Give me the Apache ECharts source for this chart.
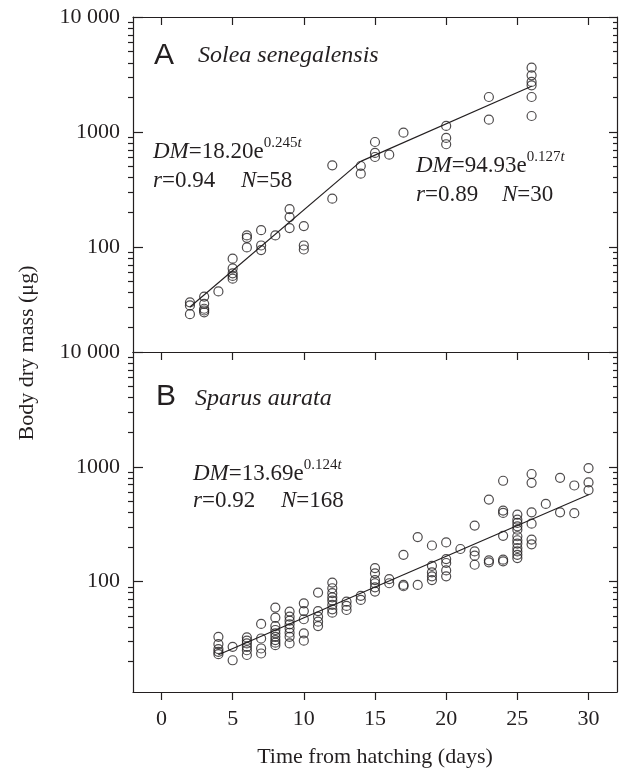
<!DOCTYPE html>
<html><head><meta charset="utf-8">
<script src="https://cdn.jsdelivr.net/npm/echarts@6/dist/echarts.min.js"></script>
<style>html,body{margin:0;padding:0;background:#fff}#c{width:623px;height:769px}</style>
</head><body><div id="c"></div>
<script>
// ---------- data ----------
const xTicks = [0, 5, 10, 15, 20, 25, 30];
const xTickLabels = ['0', '5', '10', '15', '20', '25', '30'];
const yMajor = [100, 1000, 10000];
const yMajorLabels = ['100', '1000', '10 000'];
const yMinor = [20, 30, 40, 50, 60, 70, 80, 90, 200, 300, 400, 500, 600, 700, 800, 900, 2000, 3000, 4000, 5000, 6000, 7000, 8000, 9000];

// A  Solea senegalensis
const soleaT = [2,2,2, 3,3,3,3,3, 4, 5,5,5,5,5, 6,6,6, 7,7,7, 8, 9,9,9, 10,10,10, 12,12, 14,14, 15,15,15, 16, 17, 20,20,20, 23,23, 26,26,26,26,26,26];
const soleaDM = [33,31,26, 37,32,29,28,27, 41, 79,65,59,56,53, 126,120,99, 140,103,94, 126, 213,182,146, 152,103,95, 513,263, 506,434, 818,657,606, 635, 987, 1128,887,782, 2014,1280, 3624,3110,2722,2547,2014,1377];
const soleaFit1T = [2, 14];
const soleaFit1DM = [30, 555];
const soleaFit2T = [14, 26];
const soleaFit2DM = [555, 2500];

// B  Sparus aurata
const sparusT = [
  4,4,4,4,4, 5,5, 6,6,6,6,6,6, 7,7,7,7, 8,8,8,8,8,8,8,8,8, 9,9,9,9,9,9,9,9,
  10,10,10,10,10, 11,11,11,11,11, 12,12,12,12,12,12,12,12, 13,13,13, 14,14,
  15,15,15,15,15,15, 16,16, 17,17,17, 18,18, 19,19,19,19,19, 20,20,20,20,20, 21,
  22,22,22,22, 23,23,23, 24,24,24,24,24,24, 25,25,25,25,25,25,25,25,25,25,25,25,
  26,26,26,26,26,26, 27, 28,28, 29,29, 30,30,30];
const sparusDM = [
  33,28.5,25.8,24.4,23.3, 27,20.6, 32.6,30.5,28.9,27,25.2,22.9, 42.7,31.9,26.1,23.6,
  59.3,48.4,40.9,37.8,35.3,33,30.9,29.3,27.9, 54.7,49.4,45.6,42.4,39.1,35.8,33,28.9,
  64.6,55.3,46.9,35.3,30.5, 80.2,55.3,49.4,44.7,40.9, 98,87.4,79.1,72.9,68.2,62.5,57.3,53.5,
  66.8,61.3,56.5, 75,69.1, 131,118,103,96.6,89.1,81.8, 105,96.6, 171,93.5,91, 244,93.5,
  206,137,120,111,103, 219,157,145,125,111, 192, 307,183,168,140, 518,153,147,
  755,415,396,250,155,150, 383,346,324,303,283,248,229,214,196,183,171,160,
  865,724,401,319,232,211, 474, 801,401, 687,394, 975,730,626];
const sparusFitT = [4, 30];
const sparusFitDM = [23, 570];

// ---------- style ----------
const INK = '#231f20';
const SERIF = '"Liberation Serif", "Times New Roman", serif';
const SANS = '"Liberation Sans", Arial, sans-serif';
const yMinA = 12.2, yMinB = 10.9, yMax = 10000;
const xMin = -2, xMax = 32;
const L = Math.log10;

const grids = [
  { left: 133, top: 17, width: 484, height: 335 },
  { left: 133, top: 352, width: 484, height: 340 }
];

const lineStyle = { color: INK, width: 1.2 };
const pair = (ts, vs) => ts.map((t, i) => [t, vs[i]]);

const xAxes = [], yAxes = [];
[0, 1].forEach(g => {
  const isB = g === 1;
  xAxes.push({
    type: 'value', gridIndex: g, position: 'bottom', min: xMin, max: xMax,
    splitLine: { show: false },
    axisLine: { show: true, onZero: false, lineStyle },
    axisTick: { show: isB, inside: false, length: 8, lineStyle, customValues: xTicks },
    axisLabel: {
      show: isB, customValues: xTicks, margin: 16,
      formatter: v => xTickLabels[xTicks.indexOf(v)] ?? '',
      fontFamily: SERIF, fontSize: 22, color: INK
    },
    name: isB ? 'Time from hatching (days)' : '',
    nameLocation: 'middle', nameGap: 54,
    nameTextStyle: { fontFamily: SERIF, fontSize: 22, color: INK }
  });
  xAxes.push({
    type: 'value', gridIndex: g, position: 'top', min: xMin, max: xMax,
    splitLine: { show: false },
    axisLine: { show: true, onZero: false, lineStyle },
    axisTick: { show: true, inside: true, length: 8, lineStyle, customValues: xTicks },
    axisLabel: { show: false }
  });
  const yMin = isB ? yMinB : yMinA;
  yAxes.push({
    type: 'log', logBase: 10, gridIndex: g, position: 'left', min: yMin, max: yMax,
    splitLine: { show: false }, minorSplitLine: { show: false },
    axisLine: { show: true, onZero: false, lineStyle },
    axisTick: { show: false }, axisLabel: { show: false }
  });
  const tickAxis = (pos, vals, inside, len, labels, line) => ({
    type: 'value', gridIndex: g, position: pos, min: L(yMin), max: L(yMax),
    splitLine: { show: false },
    axisLine: { show: !!line, onZero: false, lineStyle },
    axisTick: { show: true, inside, length: len, lineStyle, customValues: vals.map(L) },
    axisLabel: labels ? {
      show: true, customValues: yMajor.map(L), margin: 13,
      formatter: v => yMajorLabels[Math.round(v) - 2] ?? '',
      fontFamily: SERIF, fontSize: 22, color: INK
    } : { show: false }
  });
  yAxes.push(tickAxis('left', yMajor, true, 10, true, false));
  yAxes.push(tickAxis('left', yMinor, false, 5, false, false));
  yAxes.push(tickAxis('right', yMajor, true, 8, false, true));
  yAxes.push(tickAxis('right', yMinor, true, 4, false, false));
});

const scatter = (xi, yi, data) => ({
  type: 'scatter', xAxisIndex: xi, yAxisIndex: yi, data,
  symbol: 'circle', symbolSize: 9,
  itemStyle: { color: 'rgba(0,0,0,0)', borderColor: INK, borderWidth: 1.2 },
  silent: true, z: 3
});
const fit = (xi, yi, data) => ({
  type: 'line', xAxisIndex: xi, yAxisIndex: yi, data,
  showSymbol: false, symbol: 'none', lineStyle, silent: true, z: 2
});

// ---------- text layout helper ----------
const mctx = document.createElement('canvas').getContext('2d');
function textRun(segs, x0, baseline, size) {
  const out = [];
  let x = x0;
  segs.forEach(s => {
    const fs = s.sup ? Math.round(size * 0.66) : size;
    const fam = s.sans ? SANS : SERIF;
    const font = (s.it ? 'italic ' : '') + fs + 'px ' + fam;
    mctx.font = font;
    const w = mctx.measureText(s.t).width;
    const base = baseline - (s.sup ? 11.5 : 0);
    const xx = s.at != null ? x0 + s.at : x;
    out.push({
      type: 'text', x: xx, y: base - 0.305 * fs,
      style: { text: s.t, font, fill: INK, textAlign: 'left', textVerticalAlign: 'middle' },
      silent: true
    });
    x = xx + w;
  });
  return out;
}
const eq = (dm, k, r, n, x0, b1, b2, nOff) => [
  ...textRun([{ t: 'DM', it: true }, { t: '=' + dm + 'e' }, { t: k, sup: true }, { t: 't', it: true, sup: true }], x0, b1, 23),
  ...textRun([{ t: 'r', it: true }, { t: '=' + r }, { t: 'N', it: true, at: nOff }, { t: '=' + n }], x0, b2, 23)
];

const graphics = [
  ...textRun([{ t: 'A', sans: true }], 154, 65, 30),
  ...textRun([{ t: 'Solea senegalensis', it: true }], 198, 63, 24),
  ...eq('18.20', '0.245', '0.94', '58', 153, 159, 188, 88),
  ...eq('94.93', '0.127', '0.89', '30', 416, 173, 202, 86),
  ...textRun([{ t: 'B', sans: true }], 156, 406, 30),
  ...textRun([{ t: 'Sparus aurata', it: true }], 195, 406, 24),
  ...eq('13.69', '0.124', '0.92', '168', 193, 481, 508, 88),
  {
    type: 'text', x: 27, y: 353, rotation: Math.PI / 2,
    style: { text: 'Body dry mass (μg)', font: '22px ' + SERIF, fill: INK, textAlign: 'center', textVerticalAlign: 'middle' },
    silent: true
  }
];

const chart = echarts.init(document.getElementById('c'), null, { renderer: 'canvas' });
chart.setOption({
  animation: false,
  backgroundColor: '#fff',
  grid: grids,
  xAxis: xAxes,
  yAxis: yAxes,
  series: [
    scatter(0, 0, pair(soleaT, soleaDM)),
    fit(0, 0, pair(soleaFit1T, soleaFit1DM)),
    fit(0, 0, pair(soleaFit2T, soleaFit2DM)),
    scatter(2, 5, pair(sparusT, sparusDM)),
    fit(2, 5, pair(sparusFitT, sparusFitDM))
  ],
  graphic: graphics
});
</script>
</body></html>
